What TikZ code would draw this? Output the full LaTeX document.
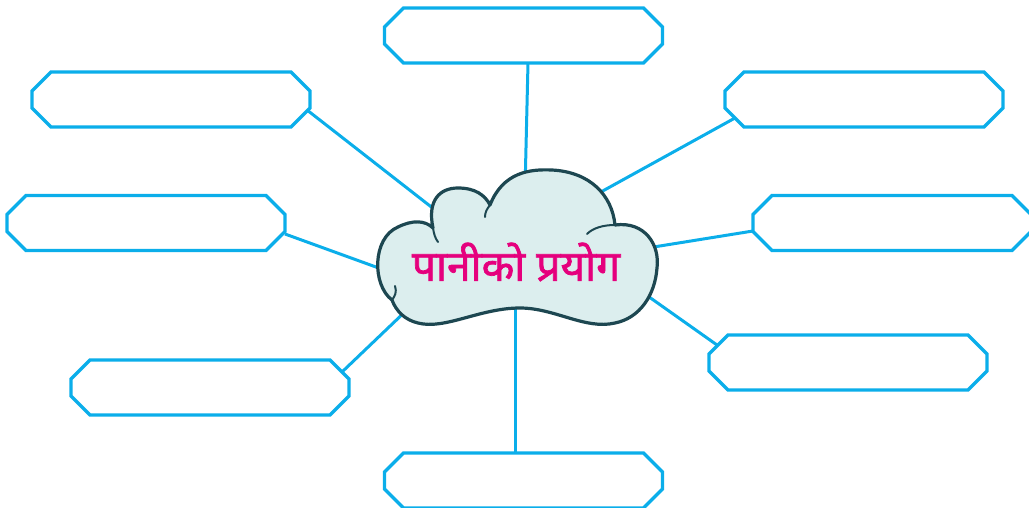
\documentclass[tikz,border=0pt]{standalone}
\usepackage{fontspec}
\newfontfamily\devfont[Script=Devanagari, FakeBold=1.6]{Noto Sans}
\definecolor{boxblue}{HTML}{0BAEEA}
\definecolor{cloudfill}{HTML}{DCEEEE}
\definecolor{cloudline}{HTML}{1D4751}
\definecolor{titlepink}{HTML}{E5007D}
\tikzset{
  boxnode/.style={rectangle, minimum width=278pt, minimum height=55pt, inner sep=0pt, outer sep=0pt},
  boxline/.style={draw=boxblue, line width=3.2pt, line join=miter},
  link/.style={draw=boxblue, line width=3pt},
  cloudedge/.style={draw=cloudline, line width=3.2pt, line cap=round, line join=round},
  curl/.style={draw=cloudline, line width=2pt, line cap=round},
}
\newcommand\octbox[2]{%
  \node[boxnode] (#1) at (#2) {};
  \draw[boxline] ([xshift=19pt]#1.north west) -- ([xshift=-19pt]#1.north east)
    -- ([yshift=-19pt]#1.north east) -- ([yshift=19pt]#1.south east)
    -- ([xshift=-19pt]#1.south east) -- ([xshift=19pt]#1.south west)
    -- ([yshift=19pt]#1.south west) -- ([yshift=-19pt]#1.north west) -- cycle;}
\begin{document}
\begin{tikzpicture}[x=1pt,y=-1pt]
\useasboundingbox (0,0) rectangle (1029,508);
% boxes
\octbox{top}{523.5,35.5}
\octbox{ul}{171,99.5}
\octbox{ur}{864,99.5}
\octbox{ml}{146,223}
\octbox{mr}{892,223}
\octbox{ll}{210,387.5}
\octbox{lr}{848,362.5}
\octbox{bt}{523.5,480.5}
% cloud anchor points (hidden under the cloud)
\coordinate (cTop) at (525,190);
\coordinate (cUL) at (448,220);
\coordinate (cUR) at (590,198);
\coordinate (cML) at (398,275);
\coordinate (cMR) at (635,250);
\coordinate (cLL) at (410,307);
\coordinate (cLR) at (635,287);
\coordinate (cBt) at (515,300);
% connectors
\draw[link] ([xshift=4.5pt]top.south) -- (cTop);
\draw[link] ([xshift=-3pt,yshift=-10.5pt]ul.east) -- (cUL);
\draw[link] ([xshift=10pt,yshift=-18.5pt]ur.west) -- (cUR);
\draw[link] ([yshift=-11pt]ml.east) -- (cML);
\draw[link] ([yshift=-8pt]mr.west) -- (cMR);
\draw[link] ([xshift=-7pt,yshift=15.5pt]ll.east) -- (cLL);
\draw[link] ([xshift=8pt,yshift=17.5pt]lr.west) -- (cLR);
\draw[link] ([xshift=-8.5pt]bt.north) -- (cBt);
% cloud
\path[fill=cloudfill, cloudedge]
  (392,300) .. controls (372,285) and (372,238) .. (398,227)
  .. controls (412,220) and (425,220) .. (433,228)
  .. controls (427,200) and (440,188) .. (458,188)
  .. controls (475,188) and (485,195) .. (490,205)
  .. controls (503,172) and (530,169) .. (552,170)
  .. controls (590,172) and (612,195) .. (615,225)
  .. controls (645,221) and (660,245) .. (657,268)
  .. controls (655,295) and (640,318) .. (615,323)
  .. controls (585,330) and (555,308) .. (520,308)
  .. controls (480,308) and (445,330) .. (418,323)
  .. controls (405,320) and (396,311) .. (392,300) -- cycle;
\draw[curl] (433,228) .. controls (434,234) and (435,238) .. (438,242);
\draw[curl] (490,205) .. controls (487,209) and (485,212) .. (485,217);
\draw[curl] (615,225) .. controls (603,225) and (593,228) .. (587,234);
\draw[curl] (392,300) .. controls (395,296) and (397,292) .. (395,286);
\node[text=titlepink, font=\devfont\fontsize{42.5}{50}\selectfont] (title) at (516,262) {पानीको प्रयोग};
\end{tikzpicture}
\end{document}
